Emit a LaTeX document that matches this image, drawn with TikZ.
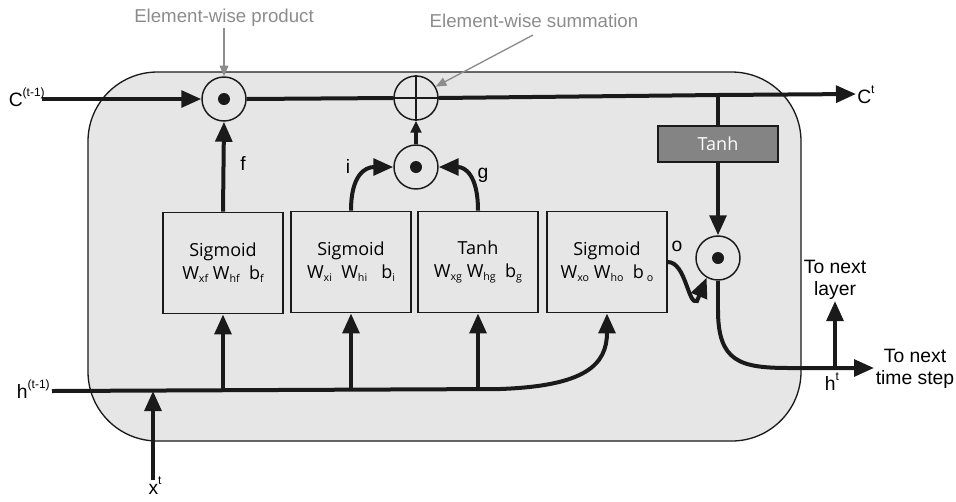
\documentclass[tikz,border=0pt]{standalone}
\usepackage{fontspec}
\setmainfont{Liberation Sans}
\newfontfamily\boxfont{Open Sans}
\usetikzlibrary{arrows.meta}
\definecolor{cellfill}{HTML}{E6E6E6}
\definecolor{notegray}{HTML}{8C8C8C}
\definecolor{tanhfill}{HTML}{848484}
\definecolor{ink}{HTML}{1A1A1A}
\newcommand{\sbs}[1]{\raisebox{-0.35ex}{\fontsize{8}{9}\selectfont #1}}
\newcommand{\sps}[1]{\raisebox{1.0ex}{\fontsize{9}{9}\selectfont #1}}
\tikzset{
  flow/.style={line width=3pt, draw=ink, -{Triangle[length=15pt,width=12.5pt]}},
  wire/.style={line width=3pt, draw=ink},
  op/.style={circle, draw=ink, line width=1.1pt, minimum size=33pt, inner sep=0pt},
  gate/.style={draw=ink, line width=1.1pt, minimum width=90pt, minimum height=76pt,
    align=center, font=\boxfont\fontsize{13.5}{17}\selectfont},
  lbl/.style={font=\fontsize{14.5}{17}\selectfont, inner sep=0pt},
  note/.style={font=\fontsize{14}{16}\selectfont, text=notegray, inner sep=0pt},
  pointer/.style={draw=notegray, line width=1pt, -{Triangle[length=8pt,width=6.5pt]}}
}
\begin{document}
\begin{tikzpicture}[x=0.75pt,y=-0.75pt]
\useasboundingbox (0,0) rectangle (956,501);

% cell body
\draw[fill=cellfill, draw=ink, line width=1pt, rounded corners=52pt] (88,72) rectangle (801,441);

% pointwise operators
\node[op] (prod) at (224,99) {};
\fill[ink] (prod.center) circle (4.5pt);
\node[op] (sum) at (416,98) {};
\draw[ink, line width=1.1pt] (sum.north) -- (sum.south) (sum.west) -- (sum.east);
\node[op] (ig) at (416,167) {};
\fill[ink] (ig.center) circle (4.5pt);
\node[op] (oprod) at (718,258) {};
\fill[ink] (oprod.center) circle (4.5pt);

% gate boxes
\node[gate] (b1) at (223,263) {Sigmoid\\W\sbs{xf} W\sbs{hf}\ \ b\sbs{f}};
\node[gate] (b2) at (351,262) {Sigmoid\\W\sbs{xi}\ \ W\sbs{hi}\ \ \ b\sbs{i}};
\node[gate] (b3) at (478,262) {Tanh\\W\sbs{xg} W\sbs{hg}\ \ b\sbs{g}};
\node[gate] (b4) at (607,262) {Sigmoid\\W\sbs{xo} W\sbs{ho}\ \ b\,\sbs{o}};
\node[draw=ink, line width=1pt, fill=tanhfill, minimum width=90pt, minimum height=27pt,
  text=white, font=\boxfont\fontsize{13.5}{16}\selectfont] (tanhc) at (718,144) {Tanh};

% cell state
\coordinate (cin) at (42,99);
\coordinate (branch) at (718,95);
\coordinate (cout) at (856,94);
\draw[flow] (cin) -- (prod.west);
\draw[wire] (prod.east) -- (sum.west);
\draw[flow] (sum.east) -- (branch) -- (cout);
\draw[wire] (branch) -- (tanhc.north);
\draw[flow] (tanhc.south) -- (oprod.north);

% gates into operators
\draw[flow] (b1.north) -- (prod.south);
\draw[flow] (b2.north) .. controls (351,175) and (365,167) .. (ig.west);
\draw[flow] (b3.north) .. controls (478,175) and (465,167) .. (ig.east);
\draw[flow, -{Triangle[length=9pt,width=8pt]}] (ig.north) -- (sum.south);
\draw[flow] (b4.east) .. controls (686,262) and (688,306) .. (697,301) -- (oprod.240);

% hidden state in
\coordinate (hin) at (52,391);
\coordinate (hmid) at (500,389);
\coordinate (xin) at (153,480);
\draw[wire] (hin) -- (hmid);
\draw[flow] (hmid) .. controls (585,386) and (607,365) .. (b4.south);
\draw[flow] (b1.south |- hin) -- (b1.south);
\draw[flow] (b2.south |- hin) -- (b2.south);
\draw[flow] (b3.south |- hin) -- (b3.south);
\draw[flow] (xin) -- (xin |- hin);

% hidden state out
\coordinate (hbend) at (718,310);
\coordinate (hstraight) at (790,368);
\coordinate (hout) at (874,368);
\coordinate (tap) at (835,368);
\coordinate (up) at (835,301);
\draw[wire] (oprod.south) -- (hbend);
\draw[flow] (hbend) .. controls (718,362) and (740,368) .. (hstraight) -- (hout);
\draw[flow] (tap) -- (up);

% labels
\node[lbl, anchor=east] (lc) at (45,97) {C\sps{(t-1)}};
\node[lbl, anchor=west] (lct) at (857,95) {C\sps{t}};
\node[lbl, anchor=east] (lh) at (50,389) {h\sps{(t-1)}};
\node[lbl] (lx) at (155,486) {x\sps{t}};
\node[lbl] (lht) at (832,382) {h\sps{t}};
\node[lbl] (lf) at (243,163) {f};
\node[lbl] (li) at (348,166) {i};
\node[lbl] (lg) at (483,175) {g};
\node[lbl] (lo) at (677,246) {o};
\node[lbl, align=center] (lnl) at (835,280) {To next\\layer};
\node[lbl, align=center] (lnt) at (915,369) {To next\\time step};

% annotations
\node[note] (np) at (224,18) {Element-wise product};
\node[note] (ns) at (534,21) {Element-wise summation};
\draw[pointer] (224,28) -- (prod.north);
\draw[pointer] (533,35) -- (sum.30);
\end{tikzpicture}
\end{document}
